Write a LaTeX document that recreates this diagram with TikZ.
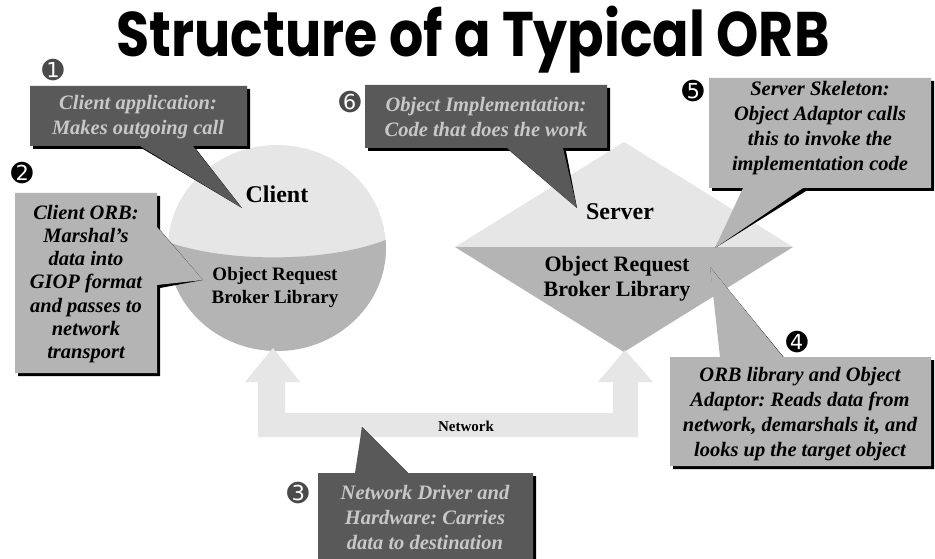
\documentclass[tikz,border=0pt]{standalone}
\usepackage{fontspec}
\usepackage{graphicx}
\setmainfont{Liberation Serif}
\newfontfamily\titlefont{Poppins}
\newfontfamily\numfont{DejaVu Sans}
\definecolor{cdark}{HTML}{595959}
\definecolor{cdtext}{HTML}{C8C8C8}
\definecolor{clight}{HTML}{B4B4B4}
\definecolor{cpale}{HTML}{E6E6E6}
\definecolor{cnum}{HTML}{4A4A4A}
\frenchspacing
\begin{document}
\begin{tikzpicture}[x=1pt,y=-1pt,
  shadowfill/.style={fill=black, shift={(3,3)}},
  darkfill/.style={fill=cdark},
  lightfill/.style={fill=clight},
  palefill/.style={fill=cpale},
  calltext/.style={inner sep=0pt, align=center, font=\fontsize{20.5}{25}\selectfont\bfseries\itshape},
  darktext/.style={calltext, text=cdtext},
  lighttext/.style={calltext, text=black},
  shapelabel/.style={inner sep=0pt, align=center, text=black, font=\bfseries},
  numdark/.style={inner sep=0pt, text=cnum, font=\numfont\fontsize{26}{26}\selectfont},
  numblack/.style={inner sep=0pt, text=black, font=\numfont\fontsize{26}{26}\selectfont}]
\useasboundingbox (0,0) rectangle (935,559);
\clip (0,0) rectangle (935,559);
\fill[white] (0,0) rectangle (935,559);

% title
\node[anchor=base, inner sep=0pt] (title) at (473,57)
  {\resizebox{713pt}{\height}{\titlefont\bfseries\fontsize{63}{70}\selectfont Structure of a Typical ORB}};

% client ellipse
\begin{scope}
  \clip (277,248) ellipse [x radius=109, y radius=103];
  \fill[palefill] (277,248) ellipse [x radius=109, y radius=103];
  \fill[lightfill] (160,239) .. controls (220,264) and (335,264) .. (395,236) -- (395,360) -- (160,360) -- cycle;
\end{scope}
\coordinate (clientbottom) at (277,351);

% server diamond
\coordinate (sl) at (455,247);
\coordinate (st) at (624,142);
\coordinate (sr) at (793,247);
\coordinate (sb) at (624,352);
\fill[palefill] (sl) -- (st) -- (sr) -- cycle;
\fill[lightfill] (sl) -- (sb) -- (sr) -- cycle;

% network arrows
\fill[palefill] (258,437) -- (258,382) -- (245,382) -- (273,348) -- (300,382) -- (285,382)
  -- (285,413) -- (613,413) -- (613,382) -- (598,382) -- (625,350) -- (653,382)
  -- (638,382) -- (638,437) -- cycle;
\node[shapelabel, font=\fontsize{15}{18}\selectfont\bfseries] (netlabel) at (466,426) {Network};

% shape labels
\node[shapelabel, font=\fontsize{24}{28}\selectfont\bfseries] (client) at (277,194) {Client};
\node[shapelabel, font=\fontsize{19}{23}\selectfont\bfseries] (clientorb) at (275,287) {Object Request\\Broker Library};
\node[shapelabel, font=\fontsize{24}{28}\selectfont\bfseries] (server) at (620,212) {Server};
\node[shapelabel, font=\fontsize{22}{25}\selectfont\bfseries] (serverorb) at (617,279) {Object Request\\Broker Library};

% tips
\coordinate (tip1) at (242,208);
\coordinate (tip2) at (203,280);
\coordinate (tip3) at (362,427);
\coordinate (tip4) at (710,267);
\coordinate (tip5) at (715,248);
\coordinate (tip6) at (577,208);

% callout 1
\fill[shadowfill] (30,86) -- (247,86) -- (247,146) -- (193,146) -- (tip1) -- (140,146) -- (30,146) -- cycle;
\fill[darkfill] (30,86) -- (247,86) -- (247,146) -- (193,146) -- (tip1) -- (140,146) -- (30,146) -- cycle;
\node[darktext] (c1) at (138,117) {Client application:\\Makes outgoing call};

% callout 6
\fill[shadowfill] (365,85) -- (607,85) -- (607,148) -- (563,148) -- (tip6) -- (507,148) -- (365,148) -- cycle;
\fill[darkfill] (365,85) -- (607,85) -- (607,148) -- (563,148) -- (tip6) -- (507,148) -- (365,148) -- cycle;
\node[darktext] (c6) at (486,117) {Object Implementation:\\Code that does the work};

% callout 2
\fill[shadowfill] (15,193) -- (157,193) -- (157,227) -- (tip2) -- (157,285) -- (157,373) -- (15,373) -- cycle;
\fill[lightfill] (15,193) -- (157,193) -- (157,227) -- (tip2) -- (157,285) -- (157,373) -- (15,373) -- cycle;
\node[lighttext, font=\fontsize{20.5}{23.3}\selectfont\bfseries\itshape] (c2) at (86,284)
  {Client ORB:\\Marshal’s\\data into\\GIOP format\\and passes to\\network\\transport};

% callout 5
\fill[shadowfill] (709,78) -- (931,78) -- (931,188) -- (803,188) -- (tip5) -- (743,188) -- (709,188) -- cycle;
\fill[lightfill] (709,78) -- (931,78) -- (931,188) -- (803,188) -- (tip5) -- (743,188) -- (709,188) -- cycle;
\node[lighttext] (c5) at (820,128) {Server Skeleton:\\Object Adaptor calls\\this to invoke the\\implementation code};

% callout 4
\fill[shadowfill] (670,357) -- (720,357) -- (tip4) -- (783,357) -- (931,357) -- (931,466) -- (670,466) -- cycle;
\fill[lightfill] (670,357) -- (720,357) -- (tip4) -- (783,357) -- (931,357) -- (931,466) -- (670,466) -- cycle;
\node[lighttext] (c4) at (800,414) {ORB library and Object\\Adaptor: Reads data from\\network, demarshals it, and\\looks up the target object};

% callout 3
\fill[shadowfill] (318,473) -- (355,473) -- (tip3) -- (408,473) -- (533,473) -- (533,575) -- (318,575) -- cycle;
\fill[darkfill] (318,473) -- (355,473) -- (tip3) -- (408,473) -- (533,473) -- (533,575) -- (318,575) -- cycle;
\node[darktext] (c3) at (425,517) {Network Driver and\\Hardware: Carries\\data to destination};

% numbers
\node[numdark] (n1) at (53,70) {➊};
\node[numblack] (n2) at (22,173) {➋};
\node[numdark] (n3) at (298,493) {➌};
\node[numblack] (n4) at (797,342) {➍};
\node[numblack] (n5) at (693,91) {➎};
\node[numdark] (n6) at (350,102) {➏};
\end{tikzpicture}
\end{document}
